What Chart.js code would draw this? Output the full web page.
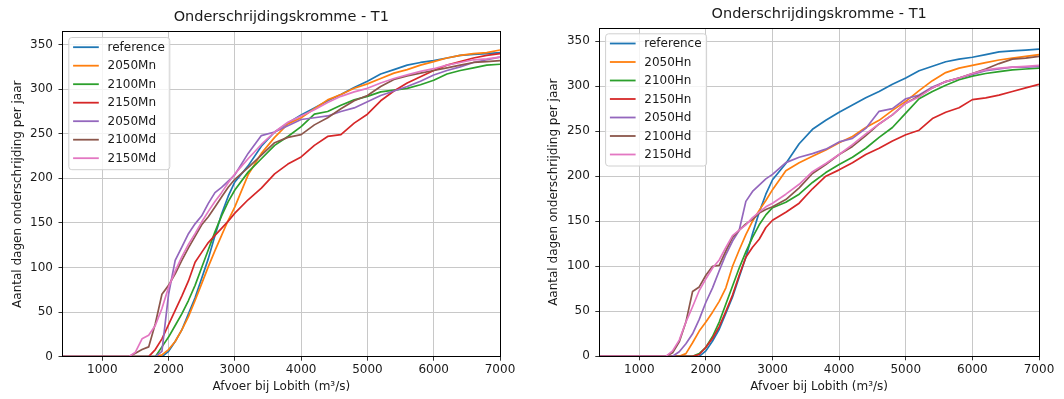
<!DOCTYPE html>
<html><head><meta charset="utf-8">
<script src="https://cdn.jsdelivr.net/npm/chart.js@4.4.1/dist/chart.umd.min.js"></script>
<style>
html,body{margin:0;padding:0;background:#fff;}
#wrap{position:relative;width:1064px;height:399px;overflow:hidden;background:#fff;}
canvas{position:absolute;top:0;}
</style></head><body>
<div id="wrap">
<canvas id="c1" width="530" height="399" style="left:0;width:530px;height:399px"></canvas>
<canvas id="c2" width="534" height="399" style="left:530px;width:534px;height:399px"></canvas>
</div>
<script>
// ---- data (discharge in m3/s, days per year) ----
const discharge = [400,1400,1500,1600,1700,1800,1900,2000,2100,2200,2300,2400,2500,2600,2700,2800,2900,3000,
  3200,3400,3600,3800,4000,4200,4400,4600,4800,5000,5200,5400,5600,5800,6000,6200,6400,6600,6800,7000];
const xTicks = [1000,2000,3000,4000,5000,6000,7000];
const yTicks = [0,50,100,150,200,250,300,350];

const reference = [0,0,0,0,0,0,0,6,17,30,48,66,88,110,136,160,180,196,
  214,236,252,262,271,279,287,294,302,309,317,322,327,330,332,335,338,339,340,341];

// left panel (M scenarios)
const s2050Mn = [0,0,0,0,0,0,2,8,17,30,45,63,82,101,119,136,153,168,
  204,228,246,261,268,278,288,294,301,306,312,318,322,327,331,335,338,340,341,344];
const s2100Mn = [0,0,0,0,0,0,11,22,35,48,63,80,100,120,140,158,174,187,
  207,222,237,247,258,272,275,282,288,292,297,299,301,305,310,317,321,324,327,328];
const s2150Mn = [0,0,0,0,0,8,20,36,52,68,85,106,117,128,136,144,152,161,
  176,189,205,216,224,237,247,249,262,272,287,298,307,314,321,327,331,335,338,340];
const s2050Md = [0,0,0,0,0,0,6,70,108,123,138,149,158,172,184,190,197,204,
  228,248,252,259,266,268,270,275,279,286,293,298,303,309,316,321,325,330,333,336];
const s2100Md = [0,0,4,8,11,37,70,80,93,108,122,135,148,157,168,179,190,199,
  212,226,240,246,249,260,268,278,287,293,303,311,315,318,321,324,327,330,331,332];
const s2150Md = [0,0,5,20,24,35,54,78,96,112,126,138,151,163,174,184,195,205,
  222,238,252,263,270,277,285,292,297,301,307,312,316,320,323,327,330,333,334,336];

// right panel (H scenarios)
const s2050Hn = [0,0,0,0,3,15,28,38,49,61,76,100,118,135,150,162,173,185,
  206,215,222,229,237,244,254,262,273,283,295,306,315,320,323,326,329,331,333,335];
const s2100Hn = [0,0,0,0,0,0,3,10,22,38,58,78,98,116,132,146,157,165,
  171,180,193,204,213,221,231,243,254,270,286,294,301,307,311,314,316,318,319,320];
const s2150Hn = [0,0,0,0,0,0,2,10,20,33,50,68,90,110,121,130,143,151,
  160,170,186,200,207,215,224,231,239,246,251,264,271,276,285,287,290,294,298,302];
const s2050Hd = [0,0,0,5,14,25,41,60,76,95,113,128,140,172,183,190,197,202,
  215,221,225,230,238,242,253,272,275,286,290,299,305,309,313,317,319,321,321,322];
const s2100Hd = [0,0,4,16,38,72,77,90,100,101,117,132,140,147,152,159,163,166,
  174,187,203,213,224,233,245,258,268,281,289,298,305,309,314,319,325,330,331,333];
const s2150Hd = [0,0,6,18,38,55,73,86,98,107,121,134,140,146,154,160,166,170,
  180,191,205,214,224,235,247,258,268,281,288,298,305,309,314,318,320,321,322,323];

const labelsM = ['reference','2050Mn','2100Mn','2150Mn','2050Md','2100Md','2150Md'];
const labelsH = ['reference','2050Hn','2100Hn','2150Hn','2050Hd','2100Hd','2150Hd'];
const seriesM = [reference,s2050Mn,s2100Mn,s2150Mn,s2050Md,s2100Md,s2150Md];
const seriesH = [reference,s2050Hn,s2100Hn,s2150Hn,s2050Hd,s2100Hd,s2150Hd];
const colors = ['#1f77b4','#ff7f0e','#2ca02c','#d62728','#9467bd','#8c564b','#e377c2'];

const titleText = 'Onderschrijdingskromme - T1';
const xTitle = 'Afvoer bij Lobith (m³/s)';
const yTitle = 'Aantal dagen onderschrijding per jaar';

// ---- rendering ----
const FONT = "'DejaVu Sans', 'Liberation Sans', sans-serif";
const TXT = '#1a1a1a';
const FS = 12;

const framePlugin = {
  id: 'frame',
  afterDatasetsDraw(chart) {
    const {ctx, chartArea: a} = chart;
    ctx.save();
    ctx.strokeStyle = '#000';
    ctx.lineWidth = 1;
    const l = Math.floor(a.left) + 0.5, t = Math.floor(a.top) + 0.5;
    const r = Math.floor(a.right) + 0.5, b = Math.floor(a.bottom) + 0.5;
    ctx.strokeRect(l, t, r - l, b - t);
    ctx.restore();
  }
};

const boxLegendPlugin = {
  id: 'boxLegend',
  afterDraw(chart) {
    const {ctx, chartArea: a} = chart;
    const ds = chart.data.datasets;
    ctx.save();
    ctx.font = FS + 'px ' + FONT;
    let maxW = 0;
    ds.forEach(d => { maxW = Math.max(maxW, ctx.measureText(d.label).width); });
    const bx = a.left + 6.3, by = a.top + 5.8;
    const rowH = 18.5;
    const bw = 38.7 + maxW + 5;
    const bh = 9.7 + rowH * (ds.length - 1) + 11.5;
    const rad = 3;
    ctx.beginPath();
    ctx.moveTo(bx + rad, by);
    ctx.lineTo(bx + bw - rad, by); ctx.quadraticCurveTo(bx + bw, by, bx + bw, by + rad);
    ctx.lineTo(bx + bw, by + bh - rad); ctx.quadraticCurveTo(bx + bw, by + bh, bx + bw - rad, by + bh);
    ctx.lineTo(bx + rad, by + bh); ctx.quadraticCurveTo(bx, by + bh, bx, by + bh - rad);
    ctx.lineTo(bx, by + rad); ctx.quadraticCurveTo(bx, by, bx + rad, by);
    ctx.closePath();
    ctx.fillStyle = 'rgba(255,255,255,0.8)';
    ctx.fill();
    ctx.strokeStyle = '#d0d0d0';
    ctx.lineWidth = 1;
    ctx.stroke();
    ctx.textBaseline = 'middle';
    ctx.textAlign = 'left';
    ds.forEach((d, i) => {
      const y = by + 9.7 + i * rowH;
      ctx.strokeStyle = d.borderColor;
      ctx.lineWidth = 1.8;
      ctx.beginPath();
      ctx.moveTo(bx + 4.3, y);
      ctx.lineTo(bx + 30, y);
      ctx.stroke();
      ctx.fillStyle = TXT;
      ctx.fillText(d.label, bx + 38.7, y + 0.5);
    });
    ctx.restore();
  }
};

function makeChart(canvasId, labels, series, L) {
  const n = series.length;
  const datasets = series.map((arr, i) => ({
    label: labels[i],
    data: discharge.map((x, j) => ({x: x, y: arr[j]})),
    borderColor: colors[i],
    backgroundColor: colors[i],
    borderWidth: 1.7,
    pointRadius: 0,
    tension: 0,
    fill: false,
    borderJoinStyle: 'round',
    order: n - i
  }));
  return new Chart(document.getElementById(canvasId), {
    type: 'line',
    data: {datasets},
    plugins: [framePlugin, boxLegendPlugin],
    options: {
      responsive: false,
      animation: false,
      devicePixelRatio: 1,
      layout: {padding: {left: 0, right: L.padRight, top: 0, bottom: 0}},
      plugins: {
        legend: {display: false},
        tooltip: {enabled: false},
        title: {
          display: true, text: titleText, fullSize: false,
          color: TXT, font: {family: FONT, size: 14.5, weight: 'normal', lineHeight: 1.2},
          padding: {top: L.titleTop, bottom: L.titleBottom}
        }
      },
      scales: {
        x: {
          type: 'linear', min: 400, max: 7000,
          afterBuildTicks(s) { s.ticks = xTicks.map(v => ({value: v})); },
          afterFit(s) { s.height = L.xHeight; },
          ticks: {color: TXT, font: {family: FONT, size: FS}, padding: 2, maxRotation: 0, autoSkip: false,
                  callback: v => String(v)},
          grid: {color: '#c8c8c8', lineWidth: 1, tickLength: 4, tickColor: '#333', tickWidth: 1},
          border: {display: false},
          title: {display: true, text: xTitle, color: TXT, font: {family: FONT, size: FS, lineHeight: 1.2}, padding: {top: 0, bottom: 5.1}}
        },
        y: {
          type: 'linear', min: 0, max: 364.5,
          afterBuildTicks(s) { s.ticks = yTicks.map(v => ({value: v})); },
          afterFit(s) { s.width = L.yWidth; },
          ticks: {color: TXT, font: {family: FONT, size: FS}, padding: 5.5, autoSkip: false,
                  callback: v => String(v)},
          grid: {color: '#c8c8c8', lineWidth: 1, tickLength: 4, tickColor: '#333', tickWidth: 1},
          border: {display: false},
          title: {display: true, text: yTitle, color: TXT, font: {family: FONT, size: FS, lineHeight: 1.2}, padding: {top: L.yTitlePad, bottom: 0}}
        }
      }
    }
  });
}

makeChart('c1', labelsM, seriesM, {padRight: 30, xHeight: 42.3, yWidth: 62.5, titleTop: 8.6, titleBottom: 5.7, yTitlePad: 11.1});
makeChart('c2', labelsH, seriesH, {padRight: 25, xHeight: 42.7, yWidth: 69.3, titleTop: 5.3, titleBottom: 5.3, yTitlePad: 16.8});
</script>
</body></html>
